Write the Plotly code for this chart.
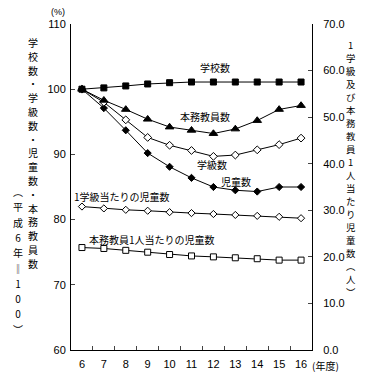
import plotly.graph_objects as go

years = ["6", "7", "8", "9", "10", "11", "12", "13", "14", "15", "16"]
schools = [100, 100.2, 100.5, 100.8, 101.0, 101.1, 101.1, 101.1, 101.1, 101.1, 101.1]
teachers = [100, 98.3, 96.9, 95.4, 94.2, 93.7, 93.2, 93.9, 95.2, 96.9, 97.5]
classes = [100, 98.0, 95.3, 92.6, 91.4, 90.6, 89.7, 89.9, 90.7, 91.5, 92.5]
pupils = [100, 97.1, 93.7, 90.2, 88.1, 86.4, 85.0, 84.5, 84.3, 85.0, 85.0]
pupils_per_class = [30.8, 30.4, 30.1, 29.9, 29.6, 29.4, 29.2, 29.0, 28.8, 28.6, 28.3]
pupils_per_teacher = [22.0, 21.8, 21.4, 21.0, 20.5, 20.2, 20.0, 19.8, 19.6, 19.3, 19.3]

JP = "Noto Sans CJK JP"
NUM = "Liberation Sans, Arial, sans-serif"

fig = go.Figure()

def add(y, symbol, fill, size, axis="y"):
    fig.add_trace(go.Scatter(
        x=years, y=y, mode="lines+markers", yaxis=axis,
        line=dict(color="black", width=1),
        marker=dict(symbol=symbol, size=size, color=fill,
                    line=dict(color="black", width=1)),
        showlegend=False, cliponaxis=False, hoverinfo="skip"))

add(pupils_per_teacher, "square", "white", 6, "y2")
add(pupils_per_class, "diamond", "white", 5.5, "y2")
add(pupils, "diamond", "black", 5.5)
add(classes, "diamond", "white", 6)
add(teachers, "triangle-up", "black", 7.5)
add(schools, "square", "black", 6)

fig.update_layout(
    width=375, height=382,
    margin=dict(l=71, r=63, t=24, b=32),
    paper_bgcolor="white", plot_bgcolor="white",
    font=dict(family=NUM, size=11, color="black"),
    xaxis=dict(type="category", tickson="boundaries", ticks="inside", ticklen=4,
               showline=True, linecolor="black", linewidth=1, showgrid=False,
               tickfont=dict(family=NUM, size=11), ticklabelstandoff=4,
               range=[-0.5, 10.5]),
    yaxis=dict(range=[60, 110], dtick=10, ticks="inside", ticklen=4,
               showline=True, linecolor="black", linewidth=1, showgrid=False,
               zeroline=False, tickfont=dict(family=NUM, size=11),
               ticklabelstandoff=2),
    yaxis2=dict(range=[0, 70], dtick=10, tickformat=".1f", overlaying="y",
                side="right", ticks="inside", ticklen=4,
                showline=True, linecolor="black", linewidth=1, showgrid=False,
                zeroline=False, tickfont=dict(family=NUM, size=11),
                ticklabelstandoff=8),
)

anns = []

def px(x, y):
    return (x - 71) / (312 - 71), (350 - y) / (350 - 24)

def lab_px(text, x, y, size=10, family=JP, xanchor="center", yanchor="middle"):
    a, b = px(x, y)
    anns.append(dict(text=text, x=a, y=b, xref="paper", yref="paper",
                     showarrow=False, xanchor=xanchor, yanchor=yanchor,
                     font=dict(family=family, size=size, color="black")))

lab_px("学校数", 215, 67)
lab_px("本務教員数", 205, 116)
lab_px("学級数", 212, 165)
lab_px("児童数", 236, 181)
lab_px("1学級当たりの児童数", 72, 196, xanchor="left")
lab_px("本務教員1人当たりの児童数", 87, 240, xanchor="left")
lab_px("(%)", 58, 12, size=9, family=NUM)
lab_px("(年度)", 325, 365, size=10)

def vertical(chars, x, y0, step, size=10):
    outer = step / 1.3
    inner = "<br>".join(f"<span style='font-size:{size}px'>{c}</span>" for c in chars)
    top = y0 - step / 2
    lab_px(inner, x, top, size=outer, yanchor="top")

vertical(list("学校数・学級数・児童数・本務教員数"), 33, 40, 13.8)
vertical(["︵", "平", "成", "6", "年", "‖", "1", "0", "0", "︶"], 18, 190, 15.3)
vertical(["1", "学", "級", "及", "び", "本", "務", "教", "員", "1", "人", "当",
          "た", "り", "児", "童", "数", "︵", "人", "︶"], 351, 42, 13.0, size=9.4)

fig.update_layout(annotations=anns)
fig.write_html("out.html", config={"displayModeBar": False},
               post_script="document.body.style.margin='0';")
